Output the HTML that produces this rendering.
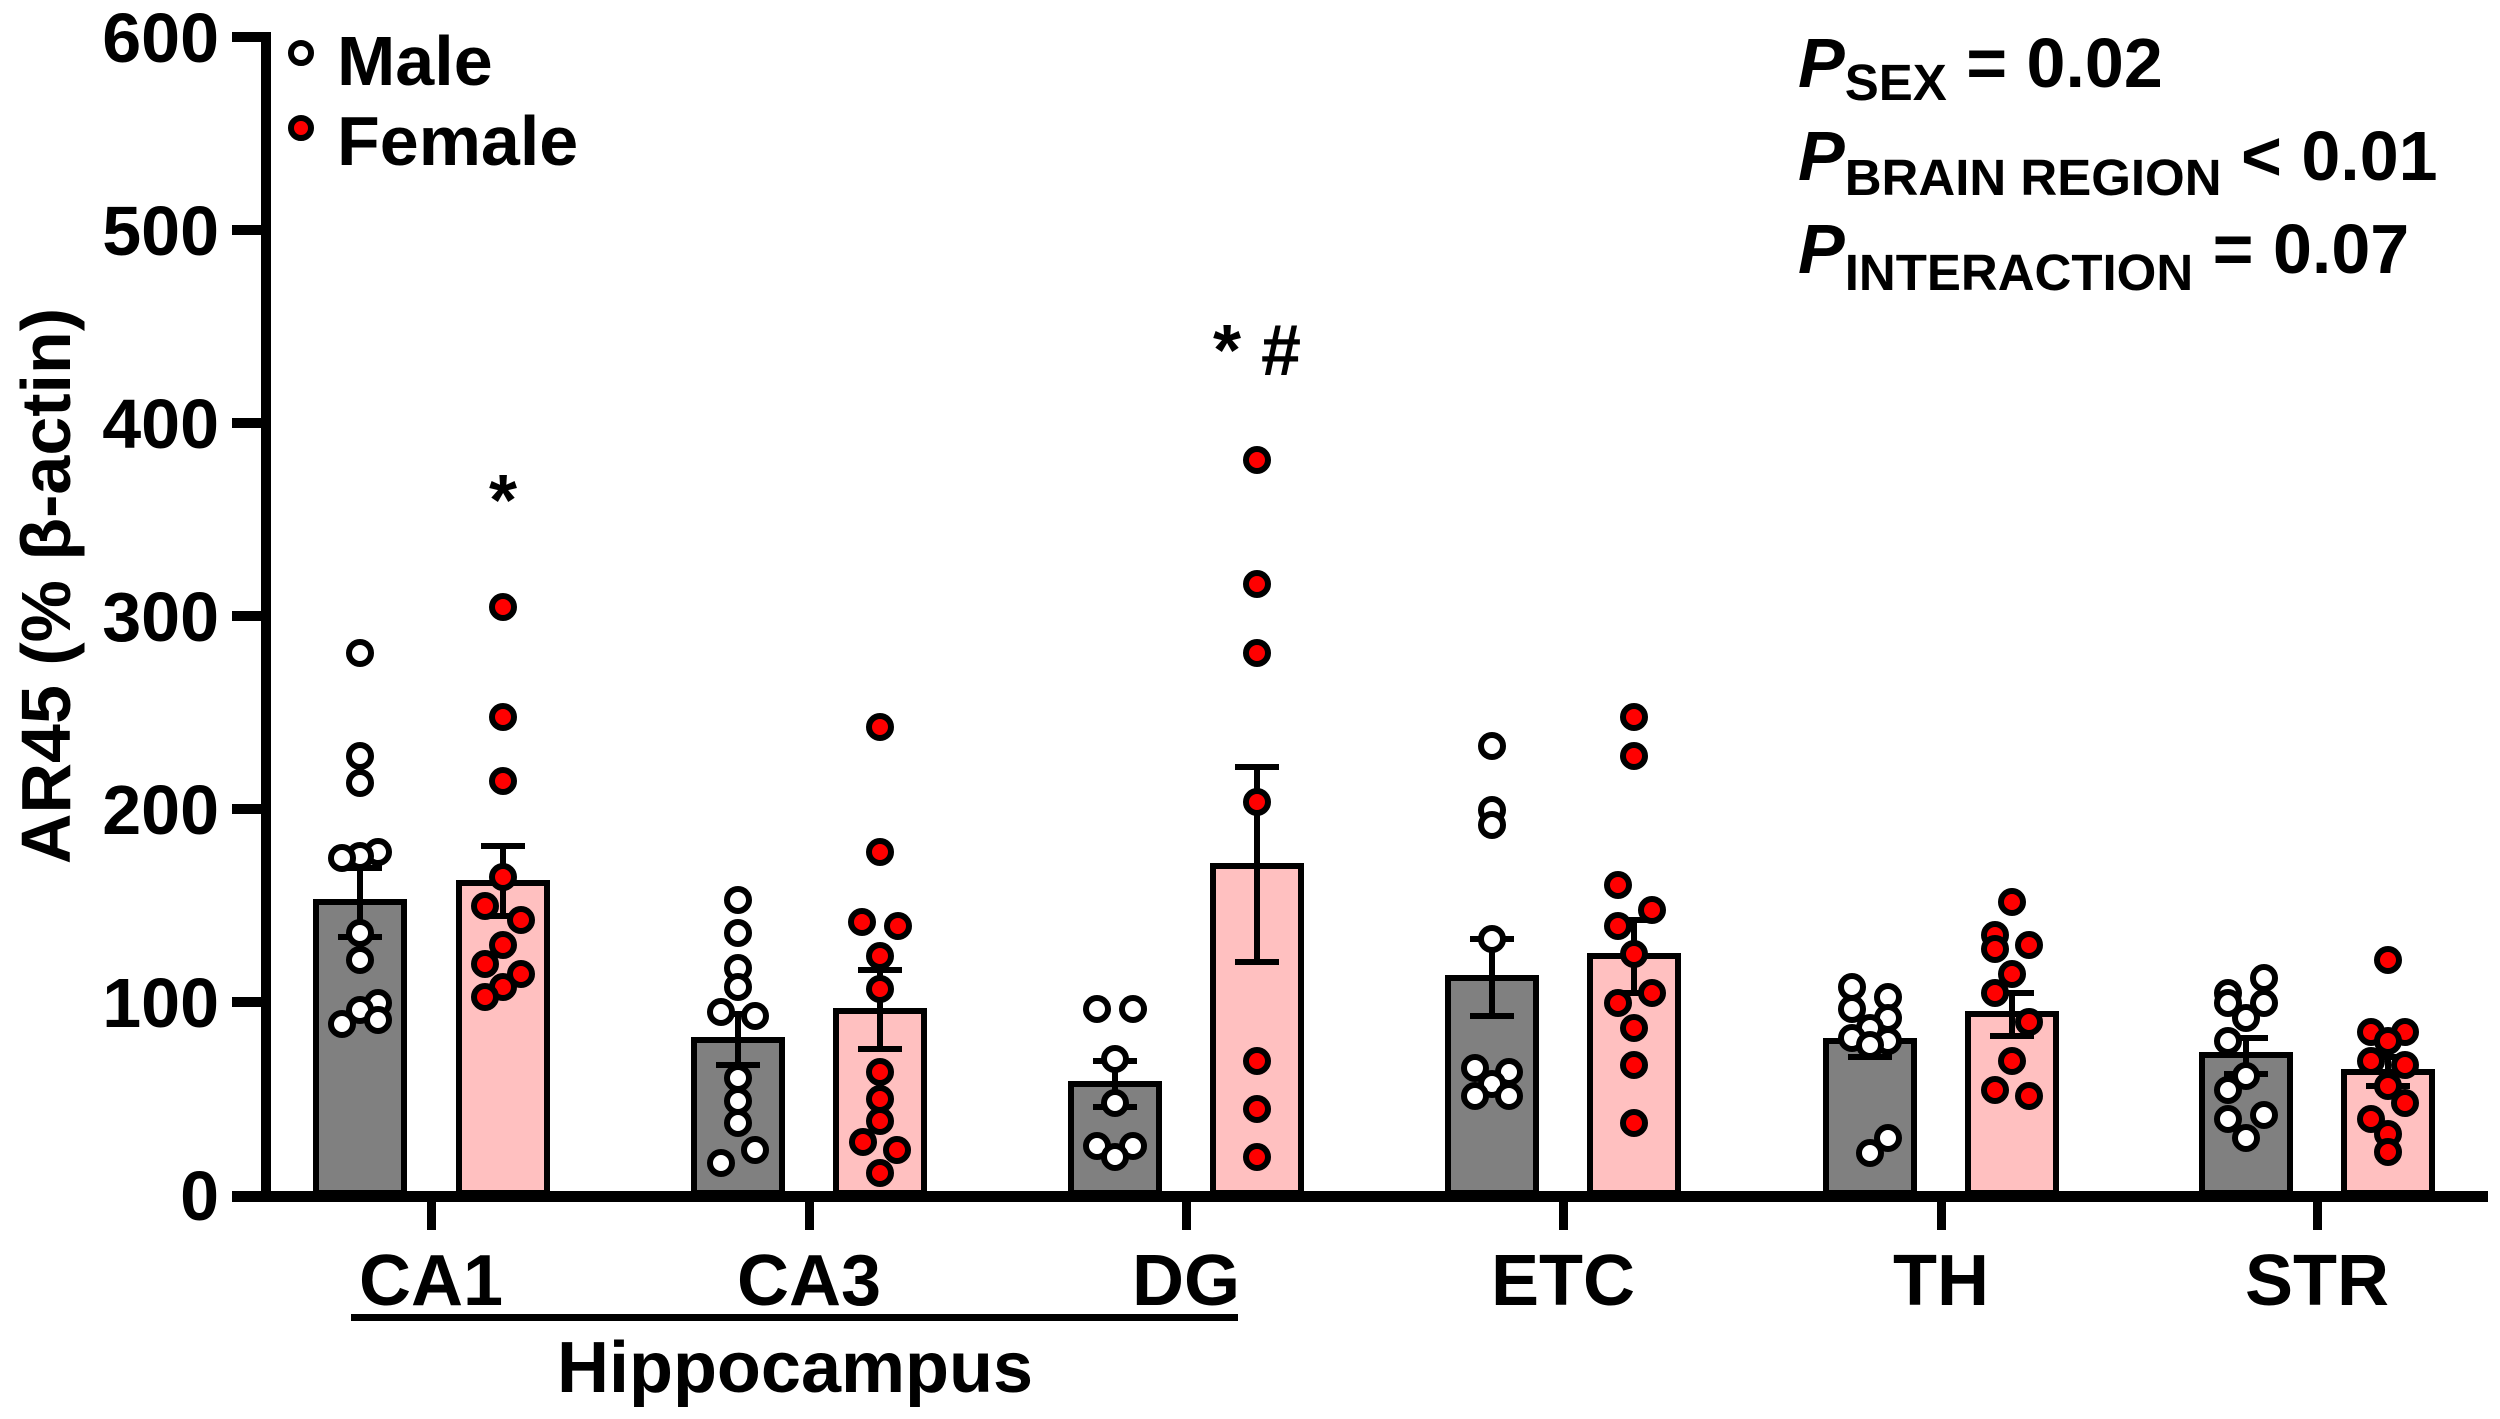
<!DOCTYPE html>
<html><head><meta charset="utf-8"><style>
html,body{margin:0;padding:0;background:#fff;}
svg{display:block;}
text{font-family:"Liberation Sans",Arial,sans-serif;font-weight:bold;fill:#000;}
.m{fill:#fff;stroke:#000;stroke-width:6;}
.f{fill:#f00;stroke:#000;stroke-width:6;}
.bm{fill:#808080;stroke:#000;stroke-width:6;}
.bf{fill:#ffc0c0;stroke:#000;stroke-width:6;}
.e{stroke:#000;stroke-width:6;fill:none;}
</style></head><body>
<svg width="2500" height="1419" viewBox="0 0 2500 1419" xmlns="http://www.w3.org/2000/svg">
<rect class="bm" x="316" y="902" width="88" height="291"/>
<rect class="bf" x="459" y="883" width="88" height="310"/>
<rect class="bm" x="694" y="1040" width="88" height="153"/>
<rect class="bf" x="836" y="1011" width="88" height="182"/>
<rect class="bm" x="1071" y="1084" width="88" height="109"/>
<rect class="bf" x="1213" y="866" width="88" height="327"/>
<rect class="bm" x="1448" y="978" width="88" height="215"/>
<rect class="bf" x="1590" y="956" width="88" height="237"/>
<rect class="bm" x="1826" y="1041" width="88" height="152"/>
<rect class="bf" x="1968" y="1014" width="88" height="179"/>
<rect class="bm" x="2202" y="1055" width="88" height="138"/>
<rect class="bf" x="2344" y="1072" width="88" height="121"/>
<path class="e" d="M360 868V937M338 868H382M338 937H382
M503 846V916M481 846H525M481 916H525
M738 1014V1065M716 1014H760M716 1065H760
M880 970V1049M858 970H902M858 1049H902
M1115 1061V1107M1093 1061H1137M1093 1107H1137
M1257 767V962M1235 767H1279M1235 962H1279
M1492 939V1016M1470 939H1514M1470 1016H1514
M1634 920V993M1612 920H1656M1612 993H1656
M1870 1028V1057M1848 1028H1892M1848 1057H1892
M2012 993V1036M1990 993H2034M1990 1036H2034
M2246 1038V1074M2224 1038H2268M2224 1074H2268
M2388 1057V1086M2366 1057H2410M2366 1086H2410"/>
<g class="m">
<circle cx="360" cy="653" r="11"/><circle cx="360" cy="756" r="11"/><circle cx="360" cy="783" r="11"/><circle cx="378" cy="852" r="11"/><circle cx="360" cy="856" r="11"/><circle cx="342" cy="858" r="11"/><circle cx="360" cy="933" r="11"/><circle cx="360" cy="960" r="11"/><circle cx="378" cy="1003" r="11"/><circle cx="360" cy="1010" r="11"/><circle cx="378" cy="1020" r="11"/><circle cx="342" cy="1024" r="11"/>
<circle cx="738" cy="900" r="11"/><circle cx="738" cy="933" r="11"/><circle cx="738" cy="968" r="11"/><circle cx="738" cy="987" r="11"/><circle cx="721" cy="1012" r="11"/><circle cx="755" cy="1016" r="11"/><circle cx="738" cy="1078" r="11"/><circle cx="738" cy="1101" r="11"/><circle cx="738" cy="1123" r="11"/><circle cx="755" cy="1150" r="11"/><circle cx="721" cy="1163" r="11"/>
<circle cx="1097" cy="1009" r="11"/><circle cx="1133" cy="1009" r="11"/><circle cx="1115" cy="1059" r="11"/><circle cx="1115" cy="1103" r="11"/><circle cx="1097" cy="1146" r="11"/><circle cx="1133" cy="1146" r="11"/><circle cx="1115" cy="1157" r="11"/>
<circle cx="1492" cy="746" r="11"/><circle cx="1492" cy="810" r="11"/><circle cx="1492" cy="825" r="11"/><circle cx="1492" cy="939" r="11"/><circle cx="1475" cy="1068" r="11"/><circle cx="1509" cy="1072" r="11"/><circle cx="1492" cy="1084" r="11"/><circle cx="1475" cy="1096" r="11"/><circle cx="1509" cy="1096" r="11"/>
<circle cx="1852" cy="987" r="11"/><circle cx="1888" cy="997" r="11"/><circle cx="1852" cy="1009" r="11"/><circle cx="1888" cy="1018" r="11"/><circle cx="1870" cy="1028" r="11"/><circle cx="1852" cy="1038" r="11"/><circle cx="1888" cy="1041" r="11"/><circle cx="1870" cy="1045" r="11"/><circle cx="1888" cy="1138" r="11"/><circle cx="1870" cy="1153" r="11"/>
<circle cx="2264" cy="978" r="11"/><circle cx="2228" cy="993" r="11"/><circle cx="2228" cy="1003" r="11"/><circle cx="2264" cy="1003" r="11"/><circle cx="2246" cy="1018" r="11"/><circle cx="2228" cy="1041" r="11"/><circle cx="2246" cy="1076" r="11"/><circle cx="2228" cy="1090" r="11"/><circle cx="2264" cy="1115" r="11"/><circle cx="2228" cy="1119" r="11"/><circle cx="2246" cy="1138" r="11"/>
</g>
<g class="f">
<circle cx="503" cy="607" r="11"/><circle cx="503" cy="717" r="11"/><circle cx="503" cy="781" r="11"/><circle cx="503" cy="877" r="11"/><circle cx="485" cy="906" r="11"/><circle cx="521" cy="920" r="11"/><circle cx="503" cy="945" r="11"/><circle cx="485" cy="964" r="11"/><circle cx="521" cy="974" r="11"/><circle cx="503" cy="987" r="11"/><circle cx="485" cy="997" r="11"/>
<circle cx="880" cy="727" r="11"/><circle cx="880" cy="852" r="11"/><circle cx="862" cy="922" r="11"/><circle cx="898" cy="926" r="11"/><circle cx="880" cy="956" r="11"/><circle cx="880" cy="989" r="11"/><circle cx="880" cy="1072" r="11"/><circle cx="880" cy="1099" r="11"/><circle cx="880" cy="1121" r="11"/><circle cx="863" cy="1142" r="11"/><circle cx="897" cy="1150" r="11"/><circle cx="880" cy="1173" r="11"/>
<circle cx="1257" cy="460" r="11"/><circle cx="1257" cy="584" r="11"/><circle cx="1257" cy="653" r="11"/><circle cx="1257" cy="802" r="11"/><circle cx="1257" cy="1061" r="11"/><circle cx="1257" cy="1109" r="11"/><circle cx="1257" cy="1157" r="11"/>
<circle cx="1634" cy="717" r="11"/><circle cx="1634" cy="756" r="11"/><circle cx="1618" cy="885" r="11"/><circle cx="1652" cy="910" r="11"/><circle cx="1618" cy="926" r="11"/><circle cx="1634" cy="954" r="11"/><circle cx="1652" cy="993" r="11"/><circle cx="1618" cy="1003" r="11"/><circle cx="1634" cy="1028" r="11"/><circle cx="1634" cy="1065" r="11"/><circle cx="1634" cy="1123" r="11"/>
<circle cx="2012" cy="902" r="11"/><circle cx="1995" cy="935" r="11"/><circle cx="2029" cy="945" r="11"/><circle cx="1995" cy="949" r="11"/><circle cx="2012" cy="974" r="11"/><circle cx="1995" cy="993" r="11"/><circle cx="2029" cy="1022" r="11"/><circle cx="2012" cy="1061" r="11"/><circle cx="1995" cy="1090" r="11"/><circle cx="2029" cy="1096" r="11"/>
<circle cx="2388" cy="960" r="11"/><circle cx="2371" cy="1032" r="11"/><circle cx="2405" cy="1032" r="11"/><circle cx="2388" cy="1041" r="11"/><circle cx="2371" cy="1061" r="11"/><circle cx="2405" cy="1065" r="11"/><circle cx="2388" cy="1086" r="11"/><circle cx="2405" cy="1103" r="11"/><circle cx="2371" cy="1119" r="11"/><circle cx="2388" cy="1134" r="11"/><circle cx="2388" cy="1152" r="11"/>
</g>
<rect x="261" y="32" width="10" height="1170"/>
<rect x="232" y="1191" width="2256" height="11"/>
<g>
<rect x="232" y="32" width="32" height="10"/>
<rect x="232" y="225" width="32" height="10"/>
<rect x="232" y="418" width="32" height="10"/>
<rect x="232" y="611" width="32" height="10"/>
<rect x="232" y="804" width="32" height="10"/>
<rect x="232" y="997" width="32" height="10"/>
<rect x="427" y="1200" width="9" height="30"/>
<rect x="805" y="1200" width="9" height="30"/>
<rect x="1182" y="1200" width="9" height="30"/>
<rect x="1559" y="1200" width="9" height="30"/>
<rect x="1937" y="1200" width="9" height="30"/>
<rect x="2313" y="1200" width="9" height="30"/>
</g>
<g font-size="70" text-anchor="end">
<text x="219" y="62">600</text>
<text x="219" y="255">500</text>
<text x="219" y="448">400</text>
<text x="219" y="641">300</text>
<text x="219" y="834">200</text>
<text x="219" y="1027">100</text>
<text x="219" y="1220">0</text>
</g>
<text transform="translate(70,586) rotate(-90)" font-size="70" text-anchor="middle">AR45 (% β-actin)</text>
<g font-size="72" text-anchor="middle">
<text x="431" y="1305">CA1</text>
<text x="809" y="1305">CA3</text>
<text x="1186" y="1305">DG</text>
<text x="1563" y="1305">ETC</text>
<text x="1941" y="1305">TH</text>
<text x="2317" y="1305">STR</text>
<text x="795" y="1392">Hippocampus</text>
</g>
<rect x="351" y="1314" width="887" height="7"/>
<text x="503" y="525" font-size="72" text-anchor="middle">*</text>
<text x="1257" y="375" font-size="72" text-anchor="middle">* #</text>
<circle class="m" cx="301" cy="53" r="10" style="stroke-width:6"/>
<circle class="f" cx="301" cy="128" r="10" style="stroke-width:6"/>
<text x="337" y="85" font-size="70">Male</text>
<text x="337" y="165" font-size="70">Female</text>
<g font-size="70">
<text x="1798" y="87"><tspan font-style="italic">P</tspan><tspan font-size="51" dy="13">SEX</tspan><tspan dy="-13"> = 0.02</tspan></text>
<text x="1798" y="180"><tspan font-style="italic">P</tspan><tspan font-size="51" dy="15">BRAIN REGION</tspan><tspan dy="-15"> &lt; 0.01</tspan></text>
<text x="1798" y="273"><tspan font-style="italic">P</tspan><tspan font-size="51" dy="17">INTERACTION</tspan><tspan dy="-17"> = 0.07</tspan></text>
</g>
</svg>
</body></html>
